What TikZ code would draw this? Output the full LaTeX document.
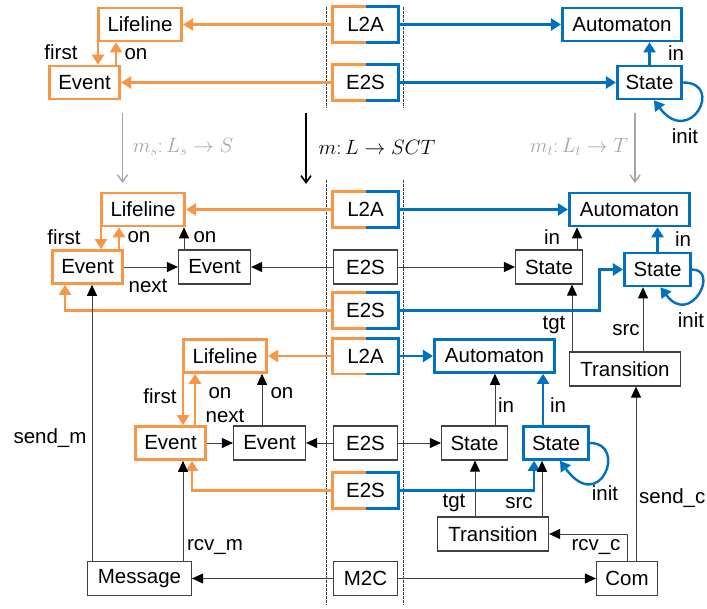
\documentclass[tikz,border=0pt]{standalone}
\usepackage{fontspec}
\setmainfont{Liberation Sans}
\usetikzlibrary{arrows.meta,calc}
\definecolor{orng}{HTML}{F79646}
\definecolor{blu}{HTML}{0070C0}
\definecolor{gry}{HTML}{A6A6A6}
\definecolor{dk}{HTML}{404040}

% box split in two halves: left border orange, right border blue
\newcommand\splitnode[3]{%
  \node[sbox] (#1) at (#2) {#3};
  \draw[orng, line width=2.6pt] (#1.north) -| (#1.west) |- (#1.south);
  \draw[blu, line width=2.6pt] (#1.north) -| (#1.east) |- (#1.south);
}

\begin{document}
\begin{tikzpicture}[x=1pt,y=-1pt,
  every node/.style={font=\fontsize{20.5}{24}\selectfont, inner sep=0pt},
  box/.style={draw=dk, line width=1.2pt, fill=white, minimum height=34pt},
  obox/.style={draw=orng, line width=2.6pt, fill=white, minimum height=33pt},
  bbox/.style={draw=blu, line width=2.6pt, fill=white, minimum height=33pt},
  sbox/.style={fill=white, minimum height=33pt, minimum width=63pt, outer sep=1.3pt},
  karr/.style={draw=dk, line width=1pt, -{Triangle[length=11pt,width=10pt,color=black]}},
  oarr/.style={draw=orng, line width=2.4pt, -{Triangle[length=10pt,width=12pt]}},
  barr/.style={draw=blu, line width=2.4pt, -{Triangle[length=10pt,width=12pt]}},
  garr/.style={draw=gry, line width=1.4pt, -{Straight Barb[length=7pt,width=10pt]}},
  marr/.style={draw=black, line width=1.6pt, -{Straight Barb[length=7pt,width=10pt]}},
  sep/.style={draw=dk, line width=0.8pt, dash pattern=on 2.5pt off 1.5pt},
]
\useasboundingbox (0,0) rectangle (707,608);

% separators between source side, transformation rules and target side
\coordinate (d1a) at (326.5,7);   \coordinate (d1b) at (326.5,108);
\coordinate (d2a) at (403,7);     \coordinate (d2b) at (403,108);
\coordinate (d3a) at (326.5,180); \coordinate (d3b) at (326.5,605);
\coordinate (d4a) at (403,180);   \coordinate (d4b) at (403,605);
\draw[sep] (d1a) -- (d1b);
\draw[sep] (d2a) -- (d2b);
\draw[sep] (d3a) -- (d3b);
\draw[sep] (d4a) -- (d4b);

% ---------------- top: rule pattern ----------------
\node[obox, minimum width=83.5pt] (lifeA) at (140,24.5) {Lifeline};
\node[obox, minimum width=70.5pt] (evA) at (84.5,82.5) {Event};
\splitnode{l2aA}{365.5,24.5}{L2A}
\splitnode{e2sA}{365.5,82.5}{E2S}
\node[bbox, minimum width=119.5pt] (autA) at (622,24.5) {Automaton};
\node[bbox, minimum width=64.5pt] (stA) at (649.5,82.5) {State};

\draw[oarr] (l2aA) -- (lifeA);
\draw[oarr] (e2sA) -- (evA);
\draw[barr] (l2aA) -- (autA);
\draw[barr] (e2sA) -- (stA);
\coordinate (fA) at ([xshift=-42pt]lifeA.south);
\draw[oarr] (fA) -- (fA |- evA.north);
\coordinate (oA) at ([xshift=31.5pt]evA.north);
\draw[oarr] (oA) -- (oA |- lifeA.south);
\draw[barr] (stA.north) -- (stA.north |- autA.south);
\draw[barr] (stA.east) .. controls +(42,0) and +(36,48) .. ([xshift=4.5pt]stA.south);

\node (tFirstA) at (61,52) {first};
\node (tOnA) at (136,54) {on};
\node (tInA) at (676,53) {in};
\node (tInitA) at (685,136) {init};

% mappings
\coordinate (msS) at (122.5,113); \coordinate (msE) at (122.5,183);
\draw[garr] (msS) -- (msE);
\node[text=gry] (msL) at (183,147) {$m_s\colon L_s\rightarrow S$};
\coordinate (mS) at (306,113); \coordinate (mE) at (306,184);
\draw[marr] (mS) -- (mE);
\node (mL) at (377,147) {$m\colon L\rightarrow SCT$};
\coordinate (mtS) at (635,113); \coordinate (mtE) at (635,183);
\draw[garr] (mtS) -- (mtE);
\node[text=gry] (mtL) at (579,147) {$m_t\colon L_t\rightarrow T$};

% ---------------- middle ----------------
\node[obox, minimum width=83.5pt] (lifeB) at (143,209.5) {Lifeline};
\node[obox, minimum width=70.5pt] (evB) at (87.5,267) {Event};
\node[box, minimum width=72pt] (evB2) at (214.5,267) {Event};
\splitnode{l2aB}{365.5,209.5}{L2A}
\node[box, minimum width=64pt] (e2sB) at (365.5,267) {E2S};
\splitnode{e2sB2}{365.5,310.5}{E2S}
\node[bbox, minimum width=120.5pt] (autB) at (629.5,209.5) {Automaton};
\node[box, minimum width=67pt] (stB) at (549,267) {State};
\node[bbox, minimum width=66.5pt] (stB2) at (657.5,269.5) {State};
\node[box, minimum width=111pt] (trB) at (625,369) {Transition};

\draw[oarr] (l2aB) -- (lifeB);
\draw[barr] (l2aB) -- (autB);
\coordinate (fB) at ([xshift=-42pt]lifeB.south);
\draw[oarr] (fB) -- (fB |- evB.north);
\coordinate (oB) at ([xshift=31.5pt]evB.north);
\draw[oarr] (oB) -- (oB |- lifeB.south);
\coordinate (oB2) at ([xshift=-30.5pt]evB2.north);
\draw[karr] (oB2) -- (oB2 |- lifeB.south);
\draw[karr] (evB) -- (evB2);
\draw[karr] (e2sB) -- (evB2);
\draw[karr] (e2sB) -- (stB);
\coordinate (eB) at ([xshift=-22.5pt]evB.south);
\draw[oarr] (e2sB2.west) -| (eB);
\draw[barr] (e2sB2.east) -- ++(201,0) |- (stB2.west);
\coordinate (iB) at ([xshift=28pt]stB.north);
\draw[karr] (iB) -- (iB |- autB.south);
\draw[barr] (stB2.north) -- (stB2.north |- autB.south);
\draw[barr] (stB2.east) .. controls +(28,0) and +(30,40) .. ([xshift=3pt]stB2.south);
\coordinate (tB) at ([xshift=-53pt]trB.north);
\draw[karr] (tB) -- (tB |- stB.south);
\coordinate (sB) at ([xshift=18pt]trB.north);
\draw[karr] (sB) -- (sB |- stB2.south);

\node (tFirstB) at (64,237) {first};
\node (tOnB) at (139,237) {on};
\node (tOnB2) at (205,237) {on};
\node (tNextB) at (148,286) {next};
\node (tInB) at (552,237) {in};
\node (tInB2) at (683,239) {in};
\node (tInitB) at (691,320) {init};
\node (tTgtB) at (554,325) {tgt};
\node (tSrcB) at (626,330) {src};

% ---------------- bottom ----------------
\node[obox, minimum width=83.5pt] (lifeC) at (225,356) {Lifeline};
\node[obox, minimum width=70.5pt] (evC) at (170.5,443) {Event};
\node[box, minimum width=72pt] (evC2) at (269.5,443) {Event};
\splitnode{l2aC}{365.5,356}{L2A}
\node[box, minimum width=64pt] (e2sC) at (365.5,443) {E2S};
\splitnode{e2sC2}{365.5,490.5}{E2S}
\node[bbox, minimum width=120.5pt] (autC) at (494.5,356) {Automaton};
\node[box, minimum width=66pt] (stC) at (474.5,443) {State};
\node[bbox, minimum width=65.5pt] (stC2) at (556,443) {State};
\node[box, minimum width=111pt] (trC) at (493,534) {Transition};
\node[box, minimum width=104pt] (msg) at (139.5,578.5) {Message};
\node[box, minimum width=64pt] (m2c) at (365.5,578.5) {M2C};
\node[box, minimum width=61pt] (com) at (627,578.5) {Com};

\draw[oarr] (l2aC) -- (lifeC);
\draw[barr] (l2aC) -- (autC);
\coordinate (fC) at ([xshift=-42pt]lifeC.south);
\draw[oarr] (fC) -- (fC |- evC.north);
\coordinate (oC) at ([xshift=24.5pt]evC.north);
\draw[oarr] (oC) -- (oC |- lifeC.south);
\coordinate (oC2) at ([xshift=-7.5pt]evC2.north);
\draw[karr] (oC2) -- (oC2 |- lifeC.south);
\draw[karr] (evC) -- (evC2);
\draw[karr] (e2sC) -- (evC2);
\draw[karr] (e2sC) -- (stC);
\coordinate (eC) at ([xshift=21.5pt]evC.south);
\draw[oarr] (e2sC2.west) -| (eC);
\coordinate (bC) at ([xshift=-22pt]stC2.south);
\draw[barr] (e2sC2.east) -| (bC);
\coordinate (iC) at ([xshift=20.5pt]stC.north);
\draw[karr] (iC) -- (iC |- autC.south);
\coordinate (iC2) at ([xshift=-13pt]stC2.north);
\draw[barr] (iC2) -- (iC2 |- autC.south);
\draw[barr] (stC2.east) .. controls +(38,0) and +(40,55) .. ([xshift=4pt]stC2.south);
\coordinate (tC) at ([xshift=-18pt]trC.north);
\draw[karr] (tC) -- (tC |- stC.south);
\coordinate (sC) at ([xshift=49pt]trC.north);
\draw[karr] (sC) -- (sC |- stC2.south);
\draw[karr] (com.north) |- (trC.east);
\coordinate (scC) at ([xshift=9pt]com.north);
\draw[karr] (scC) -- (scC |- trB.south);
\coordinate (rmC) at ([xshift=43.5pt]msg.north);
\draw[karr] (rmC) -- (rmC |- evC.south);
\coordinate (smB) at ([xshift=-47.5pt]msg.north);
\draw[karr] (smB) -- (smB |- evB.south);
\draw[karr] (m2c) -- (msg);
\draw[karr] (m2c) -- (com);

\node (tFirstC) at (160,396) {first};
\node (tOnC) at (220,393) {on};
\node (tNextC) at (225,416) {next};
\node (tOnC2) at (282,393) {on};
\node (tInC) at (506,405) {in};
\node (tInC2) at (558,405) {in};
\node (tInitC) at (605,493) {init};
\node (tTgtC) at (454,503) {tgt};
\node (tSrcC) at (519,503) {src};
\node (tRcvC) at (596,547) {rcv\_c};
\node[anchor=west] (tSendC) at (639,498) {send\_c};
\node (tRcvM) at (215,547) {rcv\_m};
\node (tSendM) at (50,438) {send\_m};
\end{tikzpicture}
\end{document}
